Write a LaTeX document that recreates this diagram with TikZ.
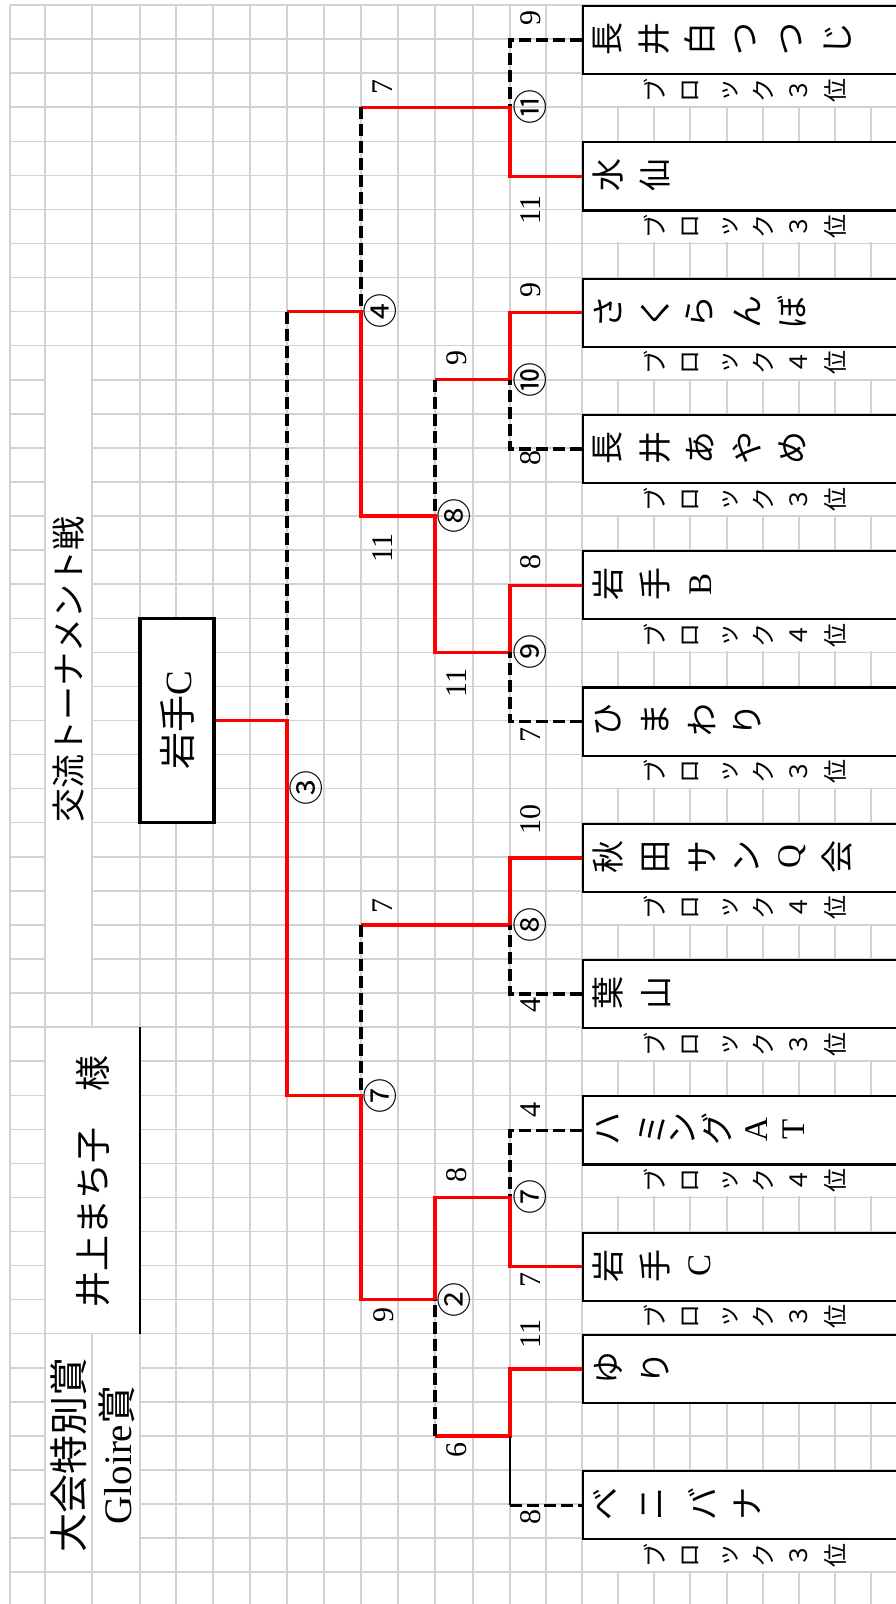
\documentclass[tikz,border=0pt]{standalone}
\usepackage{fontspec}
\setmainfont{Liberation Serif}
\newfontfamily\jp{Noto Sans CJK JP}
\definecolor{gridgray}{HTML}{D2D2D2}
\newcommand\Y[1]{5+34.07*(#1)}
\newcommand\tname[3]{\foreach \xx/\cc [count=\ii] in {#3} {\node[tchar] (nm#1-\ii) at (\xx,{\Y{#2}}) {\cc};}}
\newcommand\blabel[3]{\foreach \xx/\cc [count=\ii] in {655/ブ,690/ロ,730/ッ,763/ク,799/#3,835/位} {\node[lchar] (bl#1-\ii) at (\xx,{\Y{#2}}) {\cc};}}
\begin{document}
\begin{tikzpicture}[x=1pt,y=-1pt,
  gridline/.style={draw=gridgray,line width=1.5pt},
  mask/.style={fill=white,draw=none},
  teambox/.style={draw=black,fill=white,line width=2.2pt,anchor=north west,minimum width=318pt,minimum height=68.14pt,inner sep=0pt},
  win/.style={draw=red,line width=3.4pt},
  lose/.style={draw=black,line width=3.4pt,dash pattern=on 12pt off 5pt},
  thinln/.style={draw=black,line width=2.2pt},
  tchar/.style={rotate=90,inner sep=0pt,font=\jp\fontsize{33}{33}\selectfont},
  lchar/.style={rotate=90,inner sep=0pt,font=\jp\fontsize{24}{24}\selectfont},
  score/.style={rotate=90,inner sep=0pt,font=\fontsize{30}{30}\selectfont},
  mno/.style={rotate=90,inner sep=0pt,font=\jp\fontsize{35}{35}\selectfont},
  head/.style={rotate=90,inner sep=0pt}]
\useasboundingbox (0,0) rectangle (896,1604);
\clip (0,0) rectangle (896,1604);
\fill[white] (0,0) rectangle (896,1604);
% grid
\foreach \k in {0,...,46} \draw[gridline] (10,{\Y{\k}}) -- (896,{\Y{\k}});
\foreach \xx in {10,45,92,140,176,213,250,287,324,361,398,435,473,510,546,582,618,654,690,727,763,799,835,871}
  \draw[gridline] (\xx,5) -- (\xx,1604);
% merged cells
\fill[mask] (46,{\Y{10}+1}) rectangle (91,{\Y{29}-1});
\fill[mask] (46,{\Y{30}+1}) rectangle (139,{\Y{39}-1});
\fill[mask] (46,{\Y{39}+1}) rectangle (91,{\Y{46}-1});
\fill[mask] (93,{\Y{39}+1}) rectangle (139,{\Y{46}-1});
\foreach \k in {2,6,10,14,18,22,26,30,34,38,45}
  \fill[mask] (583,{\Y{\k}+1}) rectangle (896,{\Y{\k+1}-1});
\draw[thinln] (140,{\Y{30}}) -- (140,{\Y{39}});
% headings
\node[head,font=\jp\fontsize{34}{34}\selectfont] (title) at (68.5,669.4) {交流トーナメント戦};
\node[head,font=\jp\fontsize{36}{36}\selectfont] (guest) at (93,1181) {井上まち子　様};
\node[head,font=\jp\fontsize{39}{39}\selectfont] (prize1) at (69,1455) {大会特別賞};
\node[head,font=\fontsize{39}{39}\selectfont] (prize2) at (117,1455) {Gloire{\jp 賞}};
% champion
\node[draw=black,fill=white,line width=3.2pt,rotate=90,minimum width=204.4pt,minimum height=74pt,inner sep=0pt,font=\fontsize{37}{37}\selectfont] (champ) at (177,{\Y{21}}) {{\jp 岩手}C};
% team boxes
\foreach \a [count=\t] in {0,4,8,12,16,20,24,28,32,36,39,43}
  \node[teambox] (box\t) at (582,{\Y{\a}}) {};
% team names
\tname{1}{1}{608/長,654/井,700/白,746/つ,792/つ,838/じ}
\tname{2}{5}{608/水,655/仙}
\tname{3}{9}{608/さ,655/く,700/ら,747/ん,792/ぼ}
\tname{4}{13}{608/長,655/井,700/あ,747/や,792/め}
\tname{5}{17}{608/岩,655/手,701/{\rmfamily B}}
\tname{6}{21}{608/ひ,655/ま,702/わ,747/り}
\tname{7}{25}{608/秋,656/田,702/サ,747/ン,792/{\rmfamily Q},837/会}
\tname{8}{29}{608/葉,656/山}
\tname{9}{33}{608/ハ,652/ミ,683/ン,717/グ,757/{\rmfamily A},794/{\rmfamily T}}
\tname{10}{37}{608/岩,655/手,700/{\rmfamily C}}
\tname{11}{40}{608/ゆ,655/り}
\tname{12}{44}{605/ベ,653/ニ,702/バ,747/ナ}
% block labels
\blabel{1}{2.5}{３}
\blabel{2}{6.5}{３}
\blabel{3}{10.5}{４}
\blabel{4}{14.5}{３}
\blabel{5}{18.5}{４}
\blabel{6}{22.5}{３}
\blabel{7}{26.5}{４}
\blabel{8}{30.5}{３}
\blabel{9}{34.5}{４}
\blabel{10}{38.5}{３}
\blabel{12}{45.5}{３}
% junctions
\coordinate (jA) at (510,{\Y{3}});
\coordinate (jB) at (510,{\Y{11}});
\coordinate (jC) at (510,{\Y{19}});
\coordinate (jD) at (510,{\Y{27}});
\coordinate (jE) at (510,{\Y{35}});
\coordinate (jF) at (510,{\Y{42}});
\coordinate (kA) at (435,{\Y{15}});
\coordinate (kB) at (435,{\Y{38}});
\coordinate (mA) at (361,{\Y{9}});
\coordinate (mB) at (361,{\Y{32}});
\coordinate (sA) at (287,{\Y{21}});
% bracket, upper half
\draw[lose] (box1.west) -| (jA);
\draw[win] (box2.west) -| (jA) -- (jA -| mA);
\draw[lose] (jA -| mA) -- (mA);
\draw[win] (box3.west) -| (jB) -- (jB -| kA);
\draw[lose] (box4.west) -| (jB);
\draw[lose] (jB -| kA) -- (kA);
\draw[win] (box5.west) -| (jC) -- (jC -| kA) -- (kA) -- (kA -| mA) -- (mA) -- (mA -| sA);
\draw[lose] (box6.west) -| (jC);
\draw[lose] (mA -| sA) -- (sA);
% bracket, lower half
\draw[win] (box7.west) -| (jD) -- (jD -| mB);
\draw[lose] (box8.west) -| (jD);
\draw[lose] (jD -| mB) -- (mB);
\draw[lose] (box9.west) -| (jE);
\draw[win] (box10.west) -| (jE) -- (jE -| kB) -- (kB) -- (kB -| mB) -- (mB) -- (mB -| sA) -- (sA) -- (champ.south);
\draw[win] (box11.west) -| (jF) -- (jF -| kB);
\draw[lose] (jF -| kB) -- (kB);
\draw[thinln] (jF) -- (jF |- box12.west);
\draw[lose] (jF |- box12.west) -- (box12.west);
% scores
\foreach \xx/\yy/\s [count=\i] in {531/18/9,531/210/11,531/290/9,531/458/8,531/562/8,531/735/7,531/819/10,531/1005/4,531/1110/4,531/1280/7,531/1334/11,531/1517/8,457/358/9,457/683/11,457/1175/8,457/1450/6,383/87/7,383/548/11,383/906/7,384/1315/9}
  \node[score] (sc\i) at (\xx,\yy) {\s};
% match numbers
\foreach \xx/\yy/\m [count=\i] in {530/107/⑪,530/380/⑩,530/652/⑨,530/925/⑧,530/1197/⑦,454/516/⑧,454/1300/②,380/311/④,380/1096/⑦,306/788/③}
  \node[mno] (mn\i) at (\xx,\yy) {\m};
\end{tikzpicture}
\end{document}
